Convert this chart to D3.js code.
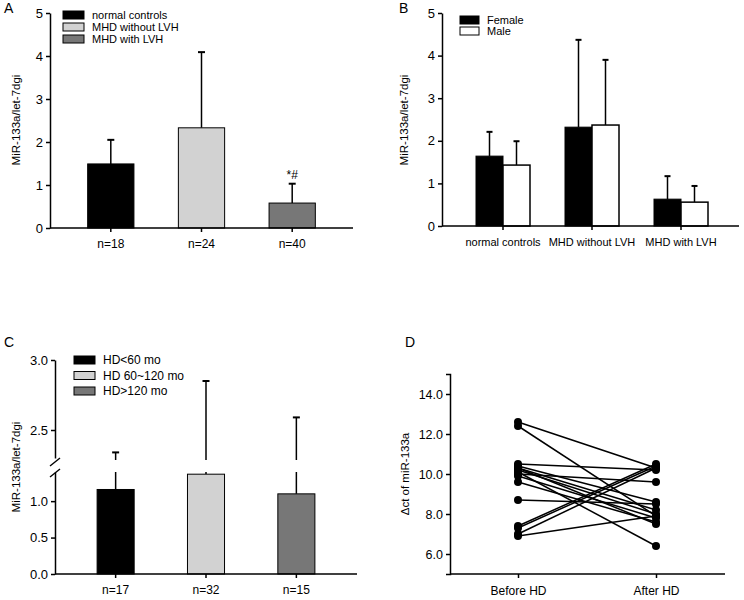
<!DOCTYPE html>
<html>
<head>
<meta charset="utf-8">
<script src="https://cdn.jsdelivr.net/npm/d3@7"></script>
<style>
  body { margin: 0; background: #fff; }
  svg text { font-family: "Liberation Sans", Arial, sans-serif; fill: #000; }
  .axis path, .axis line { stroke: #000; stroke-width: 1.5px; }
</style>
</head>
<body>
<svg id="fig" width="744" height="600"></svg>
<script>
// panel A
var groupsA = ['normal controls', 'MHD without LVH', 'MHD with LVH'];
var nA = ['n=18', 'n=24', 'n=40'];
var meanA = [1.49, 2.33, 0.58];
var errA = [2.05, 4.09, 1.03];

// panel B
var sexB = ['Female', 'Male'];
var femaleB = [1.64, 2.32, 0.63];
var femaleErrB = [2.21, 4.37, 1.17];
var maleB = [1.43, 2.37, 0.56];
var maleErrB = [1.99, 3.90, 0.94];

// panel C
var groupsC = ['HD<60 mo', 'HD 60~120 mo', 'HD>120 mo'];
var nC = ['n=17', 'n=32', 'n=15'];
var meanC = [1.16, 1.37, 1.10];
var errC = [2.34, 2.85, 2.59];

// panel D (paired)
var timeD = ['Before HD', 'After HD'];
var beforeD = [12.6, 12.4, 10.5, 10.4, 10.3, 10.2, 10.1, 10.0, 9.9, 9.6, 8.7, 7.4, 7.3, 7.0, 6.9, 10.3];
var afterD = [10.3, 7.9, 10.2, 8.6, 8.2, 8.0, 6.4, 9.6, 7.8, 7.6, 8.5, 10.5, 10.4, 10.3, 7.9, 7.5];

var fills = ['#000000', '#d2d2d2', '#777777'];
var svg = d3.select('#fig');

function panelLabel(t, x, y) {
  svg.append('text').attr('x', x).attr('y', y).attr('font-size', 14).text(t);
}
function yLabel(t, x, y) {
  svg.append('text').attr('transform', 'translate(' + x + ',' + y + ') rotate(-90)')
    .attr('text-anchor', 'middle').attr('font-size', 11.5).text(t);
}
function legend(items, colors, x, y0, dy, bw, bh, fs) {
  items.forEach(function (d, i) {
    svg.append('rect').attr('x', x).attr('y', y0 + i * dy - bh / 2).attr('width', bw).attr('height', bh)
      .attr('fill', colors[i]).attr('stroke', '#000').attr('stroke-width', 1);
    svg.append('text').attr('x', x + bw + 8).attr('y', y0 + i * dy + fs * 0.36).attr('font-size', fs).text(d);
  });
}
function errBar(x, y1, y2, cap) {
  svg.append('line').attr('x1', x).attr('x2', x).attr('y1', y1).attr('y2', y2)
    .attr('stroke', '#000').attr('stroke-width', 1.5);
  if (cap) svg.append('line').attr('x1', x - cap).attr('x2', x + cap).attr('y1', y2).attr('y2', y2)
    .attr('stroke', '#000').attr('stroke-width', 2);
}

// ---------- A ----------
(function () {
  var y = d3.scaleLinear().domain([0, 5]).range([228, 13]);
  var x = d3.scaleBand().domain(nA).range([65, 338]).paddingInner(0.49).paddingOuter(0.25);
  svg.append('g').attr('class', 'axis').attr('transform', 'translate(50,0)')
    .call(d3.axisLeft(y).ticks(5).tickSize(4).tickSizeOuter(0))
    .call(g => g.selectAll('text').attr('font-size', 13));
  nA.forEach(function (d, i) {
    var cx = x(d) + x.bandwidth() / 2;
    errBar(cx, y(meanA[i]), y(errA[i]), 3.5);
    svg.append('rect').attr('x', x(d)).attr('y', y(meanA[i])).attr('width', x.bandwidth())
      .attr('height', y(0) - y(meanA[i])).attr('fill', fills[i]).attr('stroke', '#000').attr('stroke-width', 1);
  });
  svg.append('g').attr('class', 'axis').attr('transform', 'translate(0,228)')
    .call(d3.axisBottom(x).tickSize(4).tickPadding(7).tickSizeOuter(0))
    .call(g => g.select('.domain').attr('d', 'M50,0H353'))
    .call(g => g.selectAll('text').attr('font-size', 12));
  var lx = x(nA[2]) + x.bandwidth() / 2;
  svg.append('text').attr('x', lx).attr('y', y(errA[2]) - 5).attr('text-anchor', 'middle')
    .attr('font-size', 12).text('*#');
  panelLabel('A', 4, 13);
  yLabel('MiR-133a/let-7dgi', 20, 120);
  legend(groupsA, fills, 63, 15, 12, 21, 8, 11);
})();

// ---------- B ----------
(function () {
  var y = d3.scaleLinear().domain([0, 5]).range([226, 13]);
  var x0 = d3.scaleOrdinal().domain(groupsA).range([503, 592, 681]);
  var bw = 27;
  svg.append('g').attr('class', 'axis').attr('transform', 'translate(442,0)')
    .call(d3.axisLeft(y).ticks(5).tickSize(4).tickSizeOuter(0))
    .call(g => g.selectAll('text').attr('font-size', 13));
  groupsA.forEach(function (g, i) {
    var c = x0(g);
    errBar(c - bw / 2, y(femaleB[i]), y(femaleErrB[i]), 3);
    errBar(c + bw / 2, y(maleB[i]), y(maleErrB[i]), 3);
    svg.append('rect').attr('x', c - bw).attr('y', y(femaleB[i])).attr('width', bw)
      .attr('height', y(0) - y(femaleB[i])).attr('fill', '#000').attr('stroke', '#000');
    svg.append('rect').attr('x', c).attr('y', y(maleB[i])).attr('width', bw)
      .attr('height', y(0) - y(maleB[i])).attr('fill', '#fff').attr('stroke', '#000').attr('stroke-width', 1.5);
  });
  var ax = svg.append('g').attr('class', 'axis').attr('transform', 'translate(0,226)');
  ax.append('path').attr('d', 'M442,0H739').attr('stroke', '#000').attr('stroke-width', 1.5);
  groupsA.forEach(function (g) {
    ax.append('line').attr('x1', x0(g)).attr('x2', x0(g)).attr('y1', 0).attr('y2', 4).attr('stroke', '#000').attr('stroke-width', 1.5);
    ax.append('text').attr('x', x0(g)).attr('y', 20).attr('text-anchor', 'middle').attr('font-size', 11).text(g);
  });
  panelLabel('B', 399, 13);
  yLabel('MiR-133a/let-7dgi', 408, 120);
  legend(sexB, ['#000', '#fff'], 460, 20, 11, 19, 8, 11);
})();

// ---------- C ----------
(function () {
  var yU = d3.scaleLinear().domain([2.3, 3.0]).range([458, 360]);
  var yL = d3.scaleLinear().domain([0, 1.4]).range([574, 472]);
  var x = d3.scaleBand().domain(nC).range([70, 342]).paddingInner(0.59).paddingOuter(0.3);
  svg.append('g').attr('class', 'axis').attr('transform', 'translate(55,0)')
    .call(d3.axisLeft(yU).tickValues([2.5, 3.0]).tickFormat(d3.format('.1f')).tickSize(4).tickSizeOuter(0))
    .call(g => g.selectAll('text').attr('font-size', 13));
  svg.append('g').attr('class', 'axis').attr('transform', 'translate(55,0)')
    .call(d3.axisLeft(yL).tickValues([0, 0.5, 1.0]).tickFormat(d3.format('.1f')).tickSize(4).tickSizeOuter(0))
    .call(g => g.selectAll('text').attr('font-size', 13));
  // break marks
  [462, 473].forEach(function (b) {
    svg.append('line').attr('x1', 50).attr('x2', 60).attr('y1', b + 4).attr('y2', b - 4)
      .attr('stroke', '#000').attr('stroke-width', 1.5);
  });
  nC.forEach(function (d, i) {
    var cx = x(d) + x.bandwidth() / 2;
    errBar(cx, yL(meanC[i]), yL(1.4), 0);
    errBar(cx, yU(2.3) + 2, yU(errC[i]), 3.5);
    svg.append('rect').attr('x', x(d)).attr('y', yL(meanC[i])).attr('width', x.bandwidth())
      .attr('height', yL(0) - yL(meanC[i])).attr('fill', fills[i]).attr('stroke', '#000').attr('stroke-width', 1);
  });
  svg.append('g').attr('class', 'axis').attr('transform', 'translate(0,574)')
    .call(d3.axisBottom(x).tickSize(4).tickPadding(7).tickSizeOuter(0))
    .call(g => g.select('.domain').attr('d', 'M55,0H357'))
    .call(g => g.selectAll('text').attr('font-size', 12));
  panelLabel('C', 4, 347);
  yLabel('MiR-133a/let-7dgi', 20, 467);
  legend(groupsC, fills, 74, 360, 15.5, 21, 8, 12);
})();

// ---------- D ----------
(function () {
  var y = d3.scaleLinear().domain([5, 15]).range([574, 374]);
  var x = d3.scalePoint().domain(timeD).range([518, 656]);
  svg.append('g').attr('class', 'axis').attr('transform', 'translate(450,0)')
    .call(d3.axisLeft(y).tickValues([6, 8, 10, 12, 14]).tickFormat(d3.format('.1f')).tickSize(4).tickSizeOuter(4))
    .call(g => g.selectAll('path, line').attr('stroke-width', 2))
    .call(g => g.selectAll('text').attr('font-size', 12.5));
  svg.append('g').attr('class', 'axis').attr('transform', 'translate(0,574)')
    .call(d3.axisBottom(x).tickSize(4).tickPadding(8).tickSizeOuter(0))
    .call(g => g.select('.domain').attr('d', 'M450,0H725'))
    .call(g => g.selectAll('path, line').attr('stroke-width', 2))
    .call(g => g.selectAll('text').attr('font-size', 12));
  var pairs = beforeD.map(function (b, i) { return [b, afterD[i]]; });
  svg.append('g').selectAll('line').data(pairs).join('line')
    .attr('x1', x(timeD[0])).attr('x2', x(timeD[1]))
    .attr('y1', d => y(d[0])).attr('y2', d => y(d[1]))
    .attr('stroke', '#000').attr('stroke-width', 1.5);
  svg.append('g').selectAll('circle').data(beforeD).join('circle')
    .attr('cx', x(timeD[0])).attr('cy', d => y(d)).attr('r', 4);
  svg.append('g').selectAll('circle').data(afterD).join('circle')
    .attr('cx', x(timeD[1])).attr('cy', d => y(d)).attr('r', 4);
  panelLabel('D', 405, 347);
  yLabel('\u0394ct of miR-133a', 409, 474);
})();
</script>
</body>
</html>
